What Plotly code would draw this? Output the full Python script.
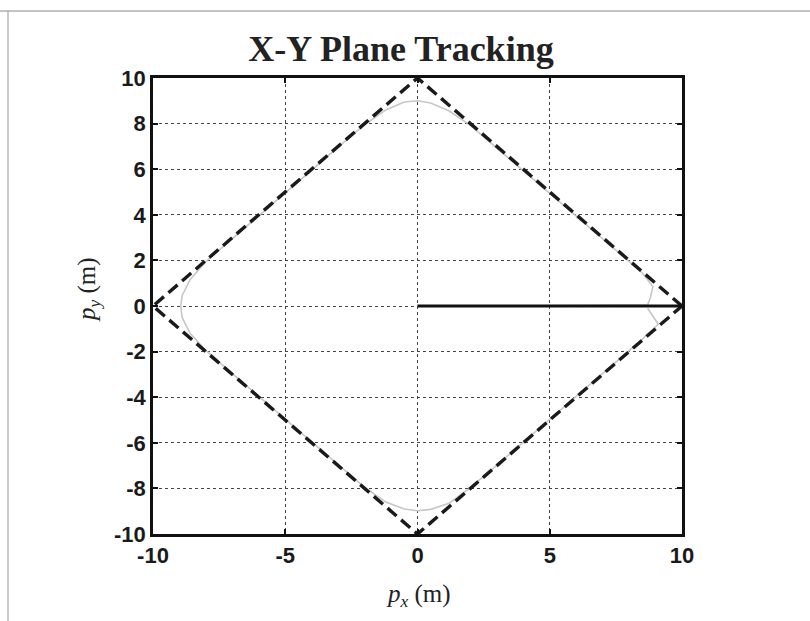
import plotly.graph_objects as go

# Desired path: run from the origin out to (10, 0), then the diamond loop
ref_x = [10, 0, -10, 0, 10]
ref_y = [0, 10, 0, -10, 0]
start_x = [0, 10]
start_y = [0, 0]

# Tracked position in the x-y plane
trk_x = [0, 4, 8.7, 8.8, 8.9, 8.5, 7, 5, 3, 2, 1.2, 0.5, 0, -0.5, -1.2, -2, -3, -5, -7,
         -8, -8.6, -8.9, -8.95, -8.9, -8.6, -8, -7, -5, -3, -2, -1.2, -0.5, 0, 0.5, 1.2,
         2, 3, 5, 7, 8.5, 9.1, 8.85, 8.7]
trk_y = [0, 0, 0.05, 0.35, 0.85, 1.45, 2.95, 4.95, 6.95, 7.92, 8.55, 8.9, 9.0, 8.95, 8.6,
         7.95, 6.97, 4.97, 2.97, 1.95, 1.15, 0.45, 0, -0.5, -1.2, -1.95, -2.97, -4.97,
         -6.97, -7.95, -8.6, -8.9, -8.98, -8.92, -8.65, -7.97, -6.98, -4.98, -2.98,
         -1.45, -0.8, -0.35, -0.1]

x_ticks = [-10, -5, 0, 5, 10]
y_ticks = [-10, -8, -6, -4, -2, 0, 2, 4, 6, 8, 10]

fig = go.Figure()
fig.add_trace(go.Scatter(x=trk_x, y=trk_y, mode="lines",
                         line=dict(color="#c4c8c8", width=1.6), showlegend=False))
fig.add_trace(go.Scatter(x=ref_x, y=ref_y, mode="lines",
                         line=dict(color="#1a1a1a", width=3.4, dash="12px,6px"), showlegend=False))
fig.add_trace(go.Scatter(x=start_x, y=start_y, mode="lines",
                         line=dict(color="#111111", width=3), showlegend=False))

axis_common = dict(
    showline=True, linecolor="#111111", linewidth=2.5, mirror="allticks",
    ticks="inside", ticklen=5, tickwidth=1.5, tickcolor="#111111",
    showgrid=True, gridcolor="#444444", gridwidth=1.2, griddash="dot",
    zeroline=False,
    tickfont=dict(family="Liberation Sans, Arial", size=22, color="#1a1a1a"),
)

fig.update_xaxes(range=[-10, 10], tickvals=x_ticks,
                 ticktext=["<b>%d</b>" % v for v in x_ticks], **axis_common)
fig.update_yaxes(range=[-10, 10], tickvals=y_ticks,
                 ticktext=["<b>%d</b>" % v for v in y_ticks], **axis_common)

fig.update_layout(
    width=810, height=621,
    margin=dict(l=153, r=128, t=78, b=87),
    paper_bgcolor="white", plot_bgcolor="white",
    title=dict(text="<b>X-Y Plane Tracking</b>", x=401 / 810, xanchor="center",
               y=1 - 48 / 621, yanchor="middle",
               font=dict(family="Liberation Serif, Times New Roman", size=36, color="#222222")),
    annotations=[
        dict(text="<i>p</i><sub><i>x</i></sub> (m)", xref="paper", yref="paper",
             x=(418 - 153) / 529, y=-(595 - 534) / 456, xanchor="center", yanchor="middle",
             showarrow=False,
             font=dict(family="Liberation Serif, Times New Roman", size=25, color="#222222")),
        dict(text="<i>p</i><sub><i>y</i></sub> (m)", xref="paper", yref="paper",
             x=-(153 - 88) / 529, y=(534 - 290) / 456, xanchor="center", yanchor="middle",
             showarrow=False, textangle=-90,
             font=dict(family="Liberation Serif, Times New Roman", size=25, color="#222222")),
    ],
    shapes=[
        dict(type="line", xref="paper", yref="paper", x0=-153 / 529, x1=(810 - 153) / 529,
             y0=1 + (78 - 11) / 456, y1=1 + (78 - 11) / 456,
             line=dict(color="#888888", width=1)),
        dict(type="line", xref="paper", yref="paper", x0=-(153 - 8) / 529, x1=-(153 - 8) / 529,
             y0=1 + (78 - 11) / 456, y1=-87 / 456,
             line=dict(color="#999999", width=1)),
    ],
)

fig.write_html("out.html")
